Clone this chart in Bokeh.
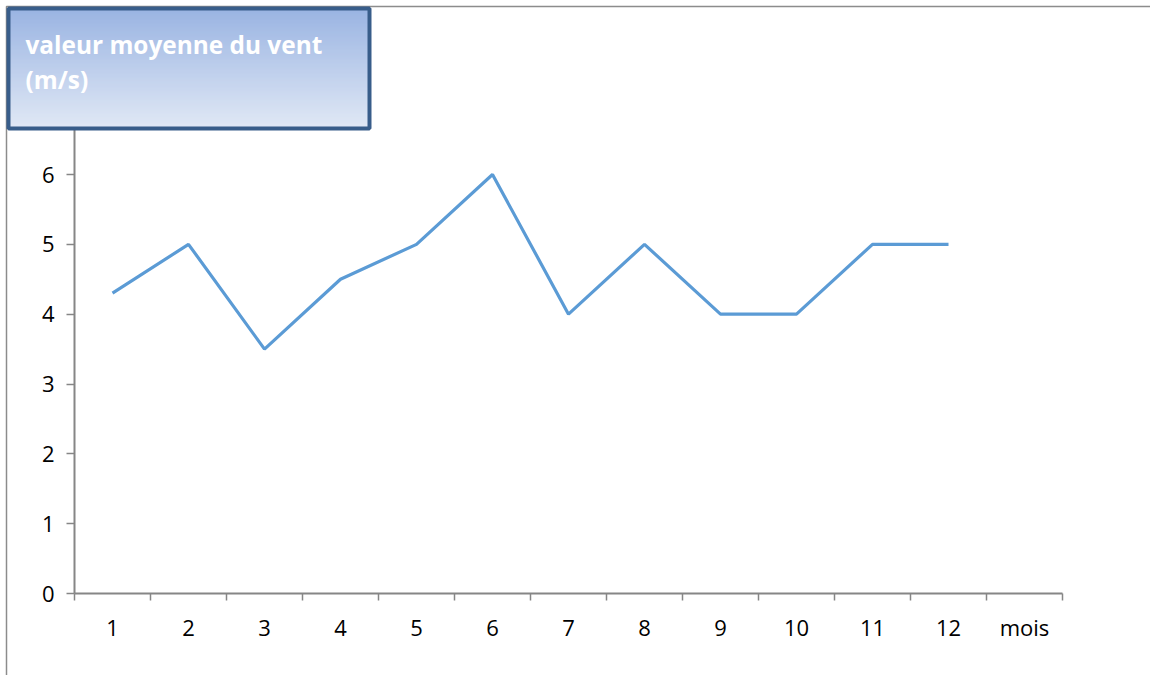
from bokeh.plotting import figure
from bokeh.models import FixedTicker, BoxAnnotation, Label, Range1d, Node
from bokeh.embed import file_html
from bokeh.resources import INLINE

# data
months = [1, 2, 3, 4, 5, 6, 7, 8, 9, 10, 11, 12]
wind = [4.3, 5, 3.5, 4.5, 5, 6, 4, 5, 4, 4, 5, 5]
y_ticks = [0, 1, 2, 3, 4, 5, 6]
x_labels = {13: "mois"}
title_lines = ["valeur moyenne du vent", "(m/s)"]

W, H = 1150, 675
# axes placement on the canvas (px)
AX_L, AX_R, AX_B = 74, 1062, 593
Y6 = 174
xs = (AX_R - AX_L) / 13.0          # px per category
ys = (AX_B - Y6) / 6.0             # px per m/s
x_range = Range1d(0.5 - AX_L / xs, 13.5 + (W - AX_R) / xs)
y_range = Range1d(-(H - AX_B) / ys, AX_B / ys)

p = figure(width=W, height=H, output_backend="svg", toolbar_location=None,
           x_range=x_range, y_range=y_range,
           min_border=0, min_border_left=0, min_border_right=0,
           min_border_top=0, min_border_bottom=0)
p.outline_line_color = None
p.xgrid.visible = False
p.ygrid.visible = False
p.background_fill_color = "white"
p.border_fill_color = "white"

p.line(months, wind, line_color="#5b9bd5", line_width=3.2)

AX = "#868686"
FONT = "Open Sans"
xa = p.xaxis[0]
xa.fixed_location = 0
xa.bounds = (0.5, 13.5)
xa.ticker = FixedTicker(ticks=list(range(1, 14)), minor_ticks=[i + 0.5 for i in range(0, 14)])
xa.major_label_overrides = x_labels
xa.major_tick_in = 0
xa.major_tick_out = 0
xa.minor_tick_in = 0
xa.minor_tick_out = 7
xa.minor_tick_line_color = AX
xa.minor_tick_line_width = 1.5
xa.axis_line_color = AX
xa.axis_line_width = 2
xa.major_label_standoff = 11
xa.major_label_text_font = FONT
xa.major_label_text_font_size = "22px"
xa.major_label_text_color = "#000000"

ya = p.yaxis[0]
ya.fixed_location = 0.5
ya.bounds = (0, 6.65)
ya.ticker = FixedTicker(ticks=y_ticks, minor_ticks=[])
ya.major_tick_in = 0
ya.major_tick_out = 8
ya.major_tick_line_color = AX
ya.major_tick_line_width = 1.5
ya.minor_tick_line_color = None
ya.axis_line_color = AX
ya.axis_line_width = 2
ya.major_label_standoff = 12
ya.major_label_text_font = FONT
ya.major_label_text_font_size = "22px"
ya.major_label_text_color = "#000000"


def cbox(l, r, t, b, **kw):
    return BoxAnnotation(left=Node(target="canvas", symbol="left", offset=l),
                         right=Node(target="canvas", symbol="left", offset=r),
                         top=Node(target="canvas", symbol="top", offset=t),
                         bottom=Node(target="canvas", symbol="top", offset=b),
                         level="overlay", **kw)


# outer chart-area border
p.add_layout(cbox(6, 3000, 6, 3000, fill_alpha=0, line_color="#8c8c8c",
                  line_alpha=1, line_width=1.5))

# title box with vertical gradient
top_c = (154, 180, 226)
bot_c = (224, 232, 245)
n = 60
y0, y1 = 8, 128
for i in range(n):
    t = i / (n - 1)
    c = tuple(int(round(top_c[k] + (bot_c[k] - top_c[k]) * t)) for k in range(3))
    ta = int(round(y0 + (y1 - y0) * i / n))
    tb = int(round(y0 + (y1 - y0) * (i + 1) / n)) + 1
    p.add_layout(cbox(8, 369, ta, tb, fill_color="#%02x%02x%02x" % c, fill_alpha=1,
                      line_alpha=0))
p.add_layout(cbox(8, 369, 8, 128, fill_alpha=0, line_color="#385d8a", line_alpha=1,
                  line_width=4))

for txt, base in zip(title_lines, [44, 79]):
    p.add_layout(Label(x=25, y=H - base, x_units="screen", y_units="screen", text=txt,
                       text_font=FONT, text_font_style="bold", text_font_size="24.4px",
                       text_color="white", text_baseline="alphabetic", level="overlay"))

open("out.html", "w").write(file_html(p, INLINE))
